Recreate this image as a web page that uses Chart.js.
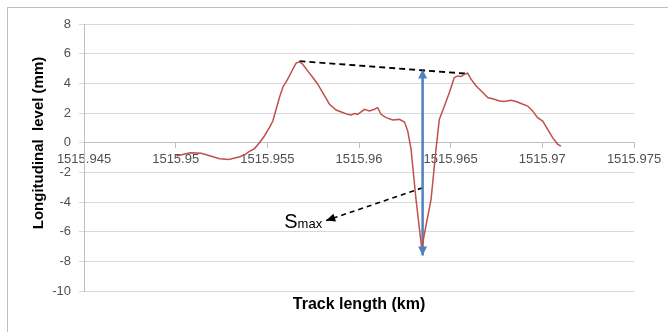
<!DOCTYPE html>
<html>
<head>
<meta charset="utf-8">
<script src="https://cdn.jsdelivr.net/npm/chart.js@4.4.1/dist/chart.umd.min.js"></script>
<style>
  html, body { margin: 0; padding: 0; background: #fff; }
  #wrap { width: 668px; height: 332px; }
</style>
</head>
<body>
<div id="wrap"><canvas id="chart" width="668" height="332"></canvas></div>
<script>
// measured profile: track length (km) vs longitudinal level (mm)
const trackKm = [
  1515.95004, 1515.9508, 1515.9514, 1515.9519, 1515.9524, 1515.9529, 1515.9535, 1515.9538,
  1515.9540, 1515.9543, 1515.95457, 1515.95484, 1515.95511, 1515.9553, 1515.95548, 1515.95566,
  1515.95584, 1515.95611, 1515.95639, 1515.95657, 1515.95675, 1515.95693, 1515.9572, 1515.95748,
  1515.95775, 1515.95802, 1515.95839, 1515.95875, 1515.95911, 1515.95938, 1515.95957, 1515.95975,
  1515.95993, 1515.96011, 1515.9603, 1515.96057, 1515.96084, 1515.96102, 1515.9612, 1515.96148,
  1515.96184, 1515.9622, 1515.96248, 1515.96266, 1515.96284, 1515.96311, 1515.96342, 1515.96393,
  1515.9642, 1515.96438, 1515.96466, 1515.96493, 1515.9652, 1515.96538, 1515.96557, 1515.96575,
  1515.96593, 1515.96611, 1515.96639, 1515.96675, 1515.96702, 1515.96738, 1515.96766, 1515.96793,
  1515.96829, 1515.96857, 1515.96884, 1515.9692, 1515.96947, 1515.96974, 1515.97002, 1515.97029,
  1515.97056, 1515.97084, 1515.97102
];
const levelMm = [
  -0.9, -0.68, -0.72, -0.9, -1.08, -1.13, -0.95, -0.79,
  -0.6, -0.4, 0.0, 0.45, 1.01, 1.46, 2.25, 3.04,
  3.72, 4.28, 4.95, 5.36, 5.45, 5.29, 4.84, 4.39,
  3.94, 3.38, 2.59, 2.2, 2.03, 1.91, 1.86, 1.96,
  1.91, 2.07, 2.25, 2.14, 2.25, 2.36, 1.91, 1.69,
  1.53, 1.57, 1.39, 0.78, -0.45, -3.83, -7.1, -3.83,
  -0.45, 1.57, 2.47, 3.38, 4.39, 4.5, 4.46, 4.61,
  4.68, 4.28, 3.82, 3.38, 3.04, 2.93, 2.81, 2.77,
  2.86, 2.77, 2.64, 2.47, 2.14, 1.69, 1.46, 0.9,
  0.34, -0.11, -0.23
];

// annotations (data units)
const peakLineX = [1515.95675, 1515.96593];
const peakLineY = [5.5, 4.65];
const smaxArrowX = [1515.96347, 1515.96347];
const smaxArrowY = [4.93, -7.6];
const pointerX = [1515.96347, 1515.95821];
const pointerY = [-3.04, -5.25];

// axis ticks
const xMin = 1515.945, xMax = 1515.975, xStep = 0.005;
const yMin = -10, yMax = 8, yStep = 2;

const toPoints = (xs, ys) => xs.map((x, i) => ({ x, y: ys[i] }));

const TICK_COLOR = '#505050';
const GRID_COLOR = '#d9d9d9';
const FONT = '"Liberation Sans", Arial, sans-serif';

function arrowHead(ctx, tipX, tipY, fromX, fromY, len, half, color) {
  const a = Math.atan2(tipY - fromY, tipX - fromX);
  ctx.save();
  ctx.fillStyle = color;
  ctx.beginPath();
  ctx.moveTo(tipX, tipY);
  ctx.lineTo(tipX - len * Math.cos(a) + half * Math.sin(a), tipY - len * Math.sin(a) - half * Math.cos(a));
  ctx.lineTo(tipX - len * Math.cos(a) - half * Math.sin(a), tipY - len * Math.sin(a) + half * Math.cos(a));
  ctx.closePath();
  ctx.fill();
  ctx.restore();
}

const decorations = {
  id: 'decorations',
  beforeDraw(chart) {
    const ctx = chart.ctx;
    ctx.save();
    ctx.fillStyle = '#fff';
    ctx.fillRect(0, 0, chart.width, chart.height);
    ctx.strokeStyle = '#bfbfbf';
    ctx.lineWidth = 1;
    ctx.strokeRect(7.5, 7.5, chart.width + 10, chart.height + 10);
    ctx.restore();
  },
  afterDatasetsDraw(chart) {
    const ctx = chart.ctx;
    const xs = chart.scales.x, ys = chart.scales.y;
    const area = chart.chartArea;

    // arrowheads for the blue double arrow
    const bx0 = xs.getPixelForValue(smaxArrowX[0]), by0 = ys.getPixelForValue(smaxArrowY[0]);
    const bx1 = xs.getPixelForValue(smaxArrowX[1]), by1 = ys.getPixelForValue(smaxArrowY[1]);
    arrowHead(ctx, bx0, by0, bx1, by1, 9, 4.5, '#4f81bd');
    arrowHead(ctx, bx1, by1, bx0, by0, 9, 4.5, '#4f81bd');

    // arrowhead of the dashed pointer
    const px0 = xs.getPixelForValue(pointerX[0]), py0 = ys.getPixelForValue(pointerY[0]);
    const px1 = xs.getPixelForValue(pointerX[1]), py1 = ys.getPixelForValue(pointerY[1]);
    arrowHead(ctx, px1, py1, px0, py0, 9, 4, '#000');

    // S_max label
    ctx.save();
    ctx.fillStyle = '#000';
    ctx.textBaseline = 'alphabetic';
    ctx.font = '13px ' + FONT;
    const subW = ctx.measureText('max').width;
    const right = px1 - 4, base = py1 + 7;
    ctx.textAlign = 'right';
    ctx.fillText('max', right, base);
    ctx.font = '20px ' + FONT;
    ctx.fillText('S', right - subW, base);
    ctx.restore();

    // axis titles
    ctx.save();
    ctx.fillStyle = '#000';
    ctx.font = 'bold 16px ' + FONT;
    ctx.textAlign = 'center';
    ctx.textBaseline = 'middle';
    ctx.fillText('Track length (km)', (area.left + area.right) / 2, 305);
    ctx.font = 'bold 15px ' + FONT;
    ctx.translate(39, 143);
    ctx.rotate(-Math.PI / 2);
    ctx.fillText('Longitudinal  level (mm)', 0, 0);
    ctx.restore();
  }
};

new Chart(document.getElementById('chart'), {
  type: 'line',
  data: {
    datasets: [
      {
        label: 'Longitudinal level',
        data: toPoints(trackKm, levelMm),
        borderColor: '#c0504d',
        borderWidth: 1.5,
        pointRadius: 0,
        tension: 0
      },
      {
        label: 'peaks',
        data: toPoints(peakLineX, peakLineY),
        borderColor: '#000',
        borderWidth: 1.8,
        borderDash: [6, 4],
        pointRadius: 0
      },
      {
        label: 'Smax',
        data: toPoints(smaxArrowX, smaxArrowY),
        borderColor: '#4f81bd',
        borderWidth: 2.5,
        pointRadius: 0
      },
      {
        label: 'pointer',
        data: toPoints(pointerX, pointerY),
        borderColor: '#000',
        borderWidth: 1.6,
        borderDash: [5, 4],
        pointRadius: 0
      }
    ]
  },
  options: {
    responsive: false,
    animation: false,
    devicePixelRatio: 1,
    layout: { padding: { left: 0, right: 34, top: 24, bottom: 41 } },
    plugins: {
      legend: { display: false },
      tooltip: { enabled: false }
    },
    scales: {
      x: {
        type: 'linear',
        position: { y: 0 },
        min: xMin,
        max: xMax,
        ticks: {
          stepSize: xStep,
          color: TICK_COLOR,
          font: { family: FONT, size: 13 },
          padding: 4,
          maxRotation: 0,
          autoSkip: false,
          callback: v => String(+(+v).toFixed(3))
        },
        grid: { drawOnChartArea: false, color: '#bfbfbf', tickLength: 5 },
        border: { color: '#bfbfbf' }
      },
      y: {
        min: yMin,
        max: yMax,
        ticks: {
          stepSize: yStep,
          color: TICK_COLOR,
          font: { family: FONT, size: 13 },
          padding: 8
        },
        grid: { color: GRID_COLOR, tickLength: 5 },
        border: { color: '#bfbfbf' },
        afterFit(scale) { scale.width = 84; }
      }
    }
  },
  plugins: [decorations]
});
</script>
</body>
</html>
